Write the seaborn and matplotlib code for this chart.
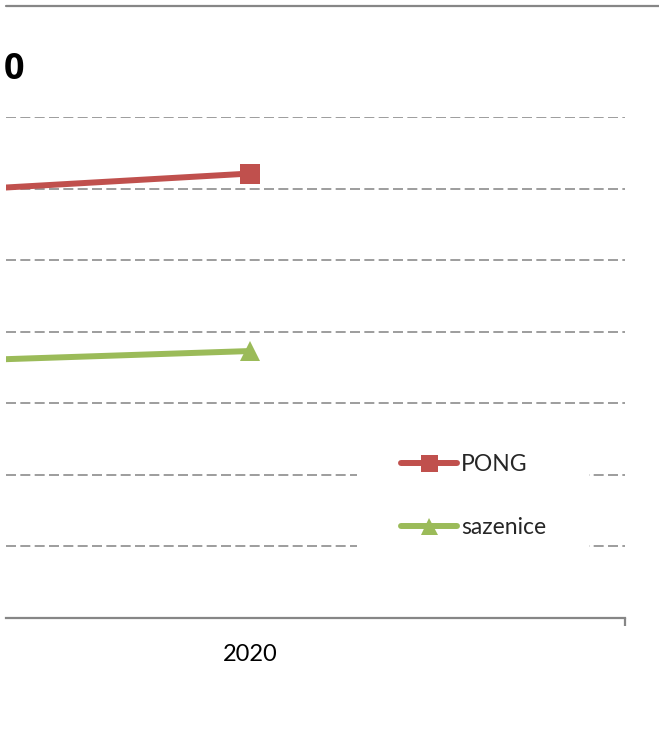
import numpy as np
import pandas as pd
import seaborn as sns
import matplotlib.pyplot as plt
from matplotlib.lines import Line2D
from matplotlib.ticker import FixedLocator, NullFormatter

# data (only the right part of the chart is visible)
years = [2019, 2020]
pong = [5.61, 6.21]
sazenice = [3.38, 3.73]
series_names = ['PONG', 'sazenice']
series_colors = ['#C0504D', '#9BBB59']
series_markers = ['s', '^']
y_grid = [1, 2, 3, 4, 5, 6, 7]
title_tail = '0'

df = pd.DataFrame({
    'rok': years * 2,
    'hodnota': pong + sazenice,
    'serie': [series_names[0]] * 2 + [series_names[1]] * 2,
})

sns.set_style('white')
plt.rcParams['font.family'] = ['Lato', 'DejaVu Sans']

W, H = 659, 736
fig = plt.figure(figsize=(W / 100, H / 100), dpi=100)

# plot area in pixels: left 6, right 625, top 117, bottom 618
x0, x1, yt, yb = 6, 625, 117, 618
ax = fig.add_axes([x0 / W, (H - yb) / H, (x1 - x0) / W, (yb - yt) / H])

for name, col, mk in zip(series_names, series_colors, series_markers):
    sub = df[df['serie'] == name]
    sns.lineplot(data=sub, x='rok', y='hodnota', ax=ax, color=col, marker=mk,
                 markersize=14.4, markeredgewidth=0, linewidth=4.3, label=name,
                 zorder=3)

ax.set_ylim(0, 7)
ax.set_xlim(2019.675, 2020.5)

grid_kw = dict(color='#8C8C8C', linewidth=1.2, linestyle=(0, (6.0, 2.6)), zorder=1)
for g in y_grid:
    ax.axhline(g, **grid_kw)

for s in ['top', 'right', 'left']:
    ax.spines[s].set_visible(False)
ax.spines['bottom'].set_color('#868686')
ax.spines['bottom'].set_linewidth(1.6)

ax.set_yticks([])
ax.xaxis.set_major_locator(FixedLocator([2020]))
ax.set_xticklabels(['2020'])
ax.xaxis.set_minor_locator(FixedLocator([2019.5, 2020.5]))
ax.xaxis.set_minor_formatter(NullFormatter())
ax.tick_params(axis='x', which='major', length=0, pad=19, labelsize=17, labelcolor='black')
ax.tick_params(axis='x', which='minor', length=5.5, width=1.6, color='#868686', bottom=True)
ax.set_xlabel('')
ax.set_ylabel('')

leg = ax.legend(loc='upper left', bbox_to_anchor=(357 / W, (H - 410) / H),
                bbox_transform=fig.transFigure, frameon=True, fontsize=16.5,
                handlelength=2.45, handletextpad=0.18, labelspacing=1.85,
                borderpad=1.9, borderaxespad=0, markerscale=0.85)
leg.get_frame().set_facecolor('white')
leg.get_frame().set_edgecolor('none')
leg.get_frame().set_alpha(1)
leg.set_zorder(5)

# top border of the chart
fig.add_artist(Line2D([6 / W, 1], [(H - 5.5) / H, (H - 5.5) / H], color='#868686',
                      linewidth=1.6, transform=fig.transFigure))

# visible tail of the chart title
fig.text(24 / W, (H - 70) / H, title_tail, ha='right', va='center',
         fontsize=26, fontweight='bold', color='black',
         family=['Open Sans', 'DejaVu Sans'])

fig.savefig('out.png', dpi=100)
